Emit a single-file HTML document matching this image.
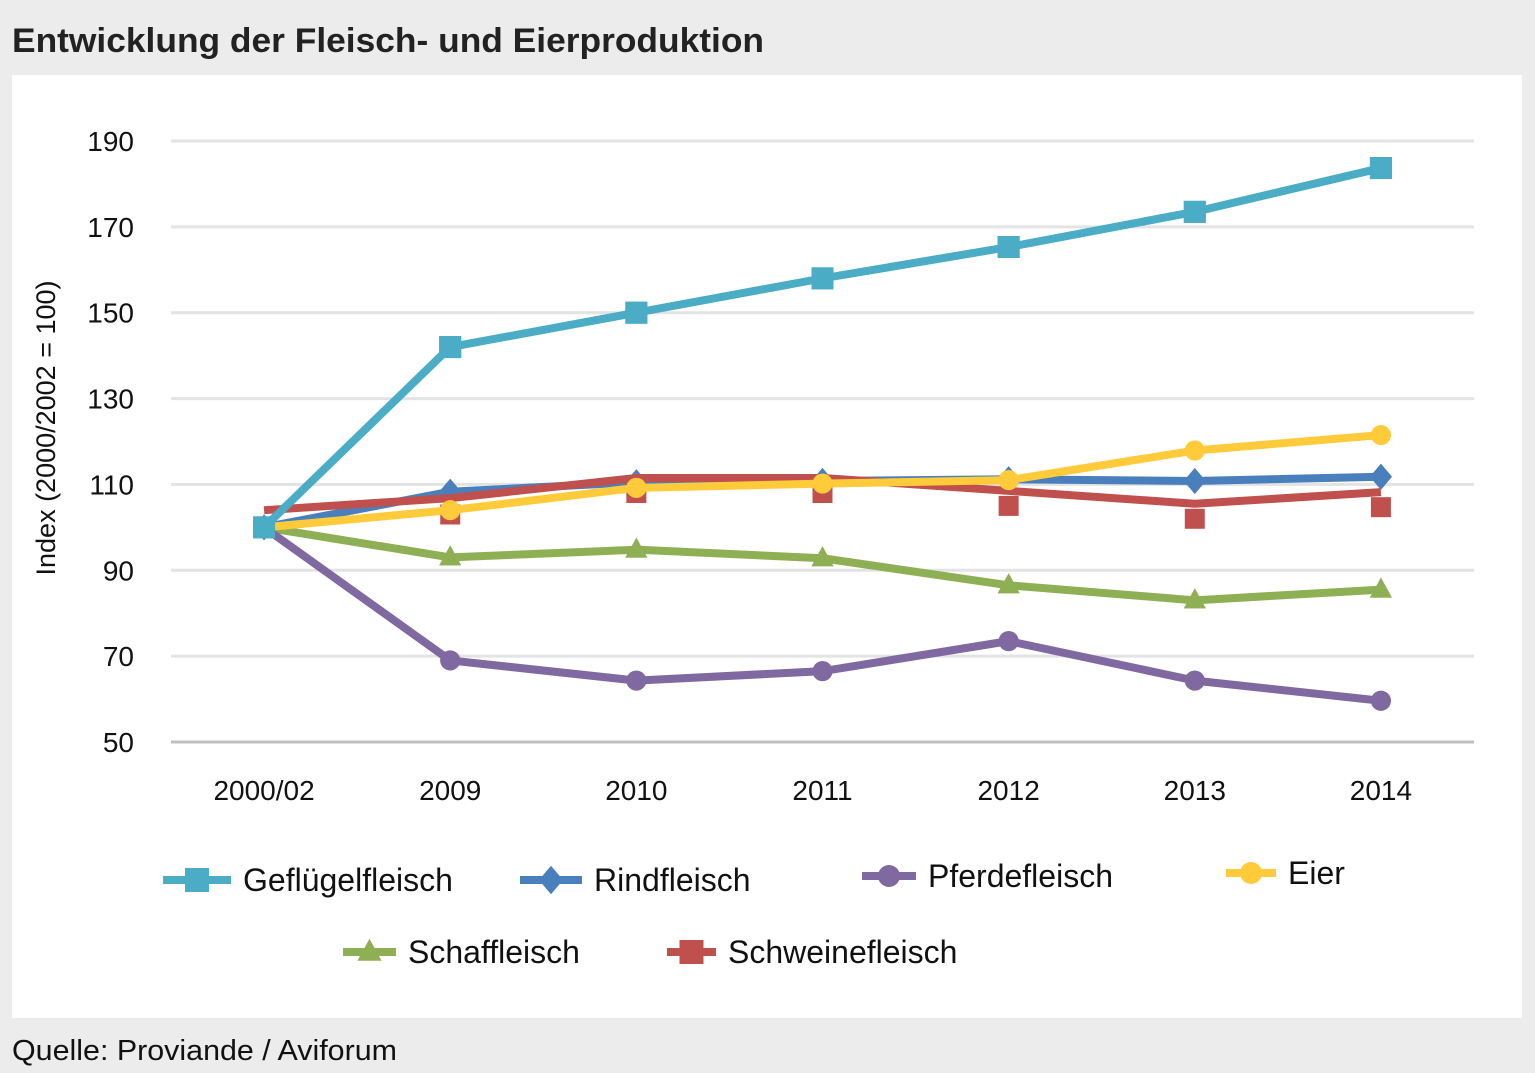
<!DOCTYPE html>
<html><head><meta charset="utf-8"><style>
body{margin:0;width:1535px;height:1068px;background:#ececec;font-family:"Liberation Sans",sans-serif;overflow:hidden}
</style></head><body>
<svg width="1535" height="1068" xmlns="http://www.w3.org/2000/svg">
<rect x="0" y="0" width="1535" height="1068" fill="#ececec"/>
<text x="12" y="52" font-size="34" font-weight="bold" fill="#222" textLength="752" lengthAdjust="spacingAndGlyphs">Entwicklung der Fleisch- und Eierproduktion</text>
<rect x="12" y="75" width="1510" height="943" fill="#fff"/>
<g id="grid"></g><g id="axes"></g><g id="series"></g><g id="legend"></g>
<text x="12" y="1060" font-size="29" fill="#111" textLength="385" lengthAdjust="spacingAndGlyphs">Quelle:  Proviande / Aviforum</text>
</svg>
<script>
const categories=["2000/02","2009","2010","2011","2012","2013","2014"];
const yTicks=[50,70,90,110,130,150,170,190];
const gefluegel=[100,142,150,158,165.3,173.5,183.7];
const rind=[100,108.3,110.5,110.8,111.2,110.8,111.8];
const pferde=[100,69,64.3,66.5,73.5,64.3,59.6];
const eier=[100,104,109.2,110.2,111,117.9,121.5];
const schaf=[100,93,94.8,92.8,86.5,83,85.5];
const schweinLine=[104,106.8,111.5,111.5,108.5,105.5,108.2];
const schweinMarkers=[100,103,108,108,105,102,104.7];
const NS="http://www.w3.org/2000/svg";
const X0=171,XW=1303,Y0=742,Y1=141;
const x=i=>X0+XW/categories.length*(i+0.5);
const y=v=>Y0-(v-50)/(190-50)*(Y0-Y1);
function mk(tag,attrs,parent){const e=document.createElementNS(NS,tag);for(const k in attrs)e.setAttribute(k,attrs[k]);document.getElementById(parent).appendChild(e);return e;}
yTicks.forEach(t=>{
 const l=mk('line',{x1:X0,x2:X0+XW,y1:y(t),y2:y(t),stroke:t===50?'#bfbfbf':'#e3e3e3','stroke-width':3},'grid');
 
 
 const tx=mk('text',{x:134,y:y(t)+10,'font-size':28,'text-anchor':'end',fill:'#111'},'axes');tx.textContent=t;
 
 
});
categories.forEach((c,i)=>{
 const tx=mk('text',{x:x(i),y:800,'font-size':28,'text-anchor':'middle',fill:'#111'},'axes');tx.textContent=c;
 
 
});
const yt=mk('text',{x:0,y:0,'font-size':27,'text-anchor':'middle',fill:'#111',transform:'translate(55,428) rotate(-90)'},'axes');yt.textContent='Index (2000/2002 = 100)';


function marker(shape,cx,cy,color,parent,s){
 let e;
 if(shape==='square')e=mk('rect',{x:cx-s,y:cy-s,width:2*s,height:2*s,fill:color},parent);
 else if(shape==='diamond')e=mk('polygon',{points:`${cx},${cy-s*1.3} ${cx+s*1.1},${cy} ${cx},${cy+s*1.3} ${cx-s*1.1},${cy}`,fill:color},parent);
 else if(shape==='circle')e=mk('circle',{cx:cx,cy:cy,r:s,fill:color},parent);
 else e=mk('polygon',{points:`${cx},${cy-s*1.2} ${cx+s*1.1},${cy+s*0.8} ${cx-s*1.1},${cy+s*0.8}`,fill:color},parent);
 
 
}
const series=[
 {name:'schaffleisch',vals:schaf,mv:schaf,color:'#8faf55',shape:'tri',s:10},
 {name:'pferdefleisch',vals:pferde,mv:pferde,color:'#7f69a0',shape:'circle',s:10},
 {name:'rindfleisch',vals:rind,mv:rind,color:'#4a7fbd',shape:'diamond',s:10},
 {name:'schweinefleisch',vals:schweinLine,mv:schweinMarkers,color:'#c0504d',shape:'square',s:10},
 {name:'eier',vals:eier,mv:eier,color:'#ffcb3a',shape:'circle',s:10},
 {name:'gefluegelfleisch',vals:gefluegel,mv:gefluegel,color:'#4aacc5',shape:'square',s:11}
];
series.forEach(s=>{
 s.mv.forEach((v,i)=>marker(s.shape,x(i),y(v),s.color,'series',s.s));
 const p=mk('polyline',{points:s.vals.map((v,i)=>x(i)+','+y(v)).join(' '),fill:'none',stroke:s.color,'stroke-width':8,'stroke-linejoin':'round'},'series');
 
 
 if(s.name!=='schweinefleisch')s.mv.forEach((v,i)=>marker(s.shape,x(i),y(v),s.color,'series',s.s));
});
const legend=[
 ['Geflügelfleisch','#4aacc5','square',163,880,243],
 ['Rindfleisch','#4a7fbd','diamond',520,880,594],
 ['Pferdefleisch','#7f69a0','circle',862,876,928],
 ['Eier','#ffcb3a','circle',1226,873,1288],
 ['Schaffleisch','#8faf55','tri',343,952,408],
 ['Schweinefleisch','#c0504d','square',667,952,728]
];
legend.forEach(([t,c,sh,lx,ly,tx])=>{
 const l=mk('line',{x1:lx,x2:tx-12,y1:ly,y2:ly,stroke:c,'stroke-width':8},'legend');
 
 
 marker(sh,(lx+tx-12)/2,ly,c,'legend',sh==='square'?12:11);
 const te=mk('text',{x:tx,y:ly+11,'font-size':32,fill:'#111'},'legend');te.textContent=t;
 
 
});
</script>
</body></html>
